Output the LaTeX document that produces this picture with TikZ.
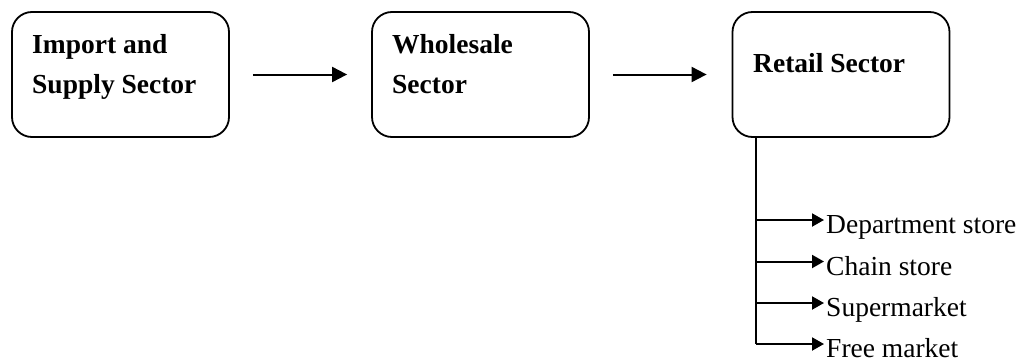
\documentclass[tikz,border=0pt]{standalone}
\usepackage{fontspec}
\setmainfont{Liberation Serif}
\usetikzlibrary{arrows.meta}
\tikzset{
  sector/.style={draw, line width=1.8pt, rounded corners=20pt, minimum width=217pt, minimum height=125pt, inner sep=0pt},
  sectortext/.style={anchor=north west, inner sep=0pt, align=left, font=\fontsize{27.5}{40}\selectfont\bfseries},
  shop/.style={anchor=base west, inner sep=0pt, font=\fontsize{27.5}{33}\selectfont},
  flow/.style={line width=2pt, -{Triangle[length=15pt,width=15pt]}},
  branch/.style={line width=2pt, -{Triangle[length=12pt,width=13pt]}},
}
\begin{document}
\begin{tikzpicture}[x=1pt,y=1pt,yscale=-1,xscale=1]
                \useasboundingbox (0,0) rectangle (1022,361);
                % the three sectors
                \node [sector] (import) at (120.5,74.5) {};
                \node [sector] (wholesale) at (480.5,74.5) {};
                \node [sector] (retail) at (841,74.5) {};
                \node [sectortext] (importtxt) at (32,34.5) {Import and\\Supply Sector};
                \node [sectortext] (wholesaletxt) at (392,34.5) {Wholesale\\Sector};
                \node [sectortext, anchor=base west] (retailtxt) at (753,73) {Retail Sector};
                \draw [flow] ([xshift=23pt]import.east) -- ([xshift=-24pt]wholesale.west);
                \draw [flow] ([xshift=23pt]wholesale.east) -- ([xshift=-25pt]retail.west);
                % kinds of retail
                \node [shop] (dept) at (826,233.5) {Department store};
                \node [shop] (chain) at (826,275) {Chain store};
                \node [shop] (super) at (826,316.5) {Supermarket};
                \node [shop] (free) at (826,357) {Free market};
                \coordinate (trunk) at ([xshift=24pt]retail.south west);
                \coordinate (depttip) at (824,220);
                \coordinate (chaintip) at (824,261.5);
                \coordinate (supertip) at (824,303);
                \coordinate (freetip) at (824,344);
                \draw [line width=2pt] (trunk) -- (freetip -| trunk);
                \draw [branch] (depttip -| trunk) -- (depttip);
                \draw [branch] (chaintip -| trunk) -- (chaintip);
                \draw [branch] (supertip -| trunk) -- (supertip);
                \draw [branch] (freetip -| trunk) -- (freetip);
            \end{tikzpicture}
\end{document}
